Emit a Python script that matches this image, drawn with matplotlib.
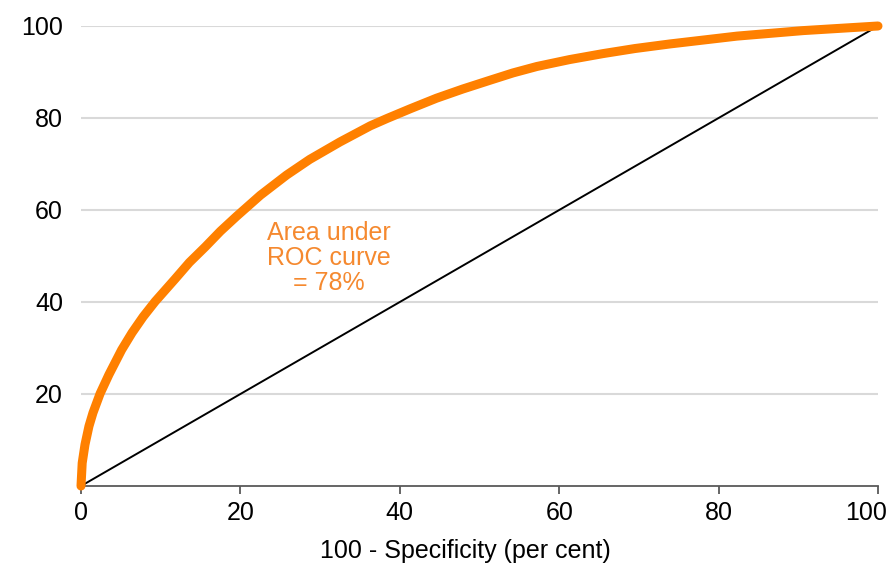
import matplotlib
matplotlib.use("Agg")
import matplotlib.pyplot as plt
import matplotlib.transforms as mtransforms

# Data
roc_x = [0, 0.15, 0.5, 1.0, 1.5, 2.4, 3.5, 5.1, 6.4, 7.8, 9.3, 11.8, 13.6, 15.6, 17.5,
         19.5, 22.5, 25.8, 28.7, 32.5, 36.3, 38.4, 41.3, 44.6, 47.9, 51.3, 54.2, 57.2,
         61.3, 65.5, 69.5, 73.9, 82.3, 90.6, 100]
roc_y = [0, 5.0, 9.0, 13.0, 15.9, 20.1, 24.2, 29.6, 33.3, 36.8, 40.1, 45.0, 48.6, 52.0,
         55.4, 58.6, 63.2, 67.6, 71.0, 74.8, 78.3, 79.9, 82.0, 84.3, 86.3, 88.2, 89.8,
         91.2, 92.7, 94.0, 95.1, 96.1, 97.8, 99.0, 100]
diag_x = [0, 100]
diag_y = [0, 100]
x_ticks = [0, 20, 40, 60, 80, 100]
y_ticks = [20, 40, 60, 80, 100]
annotation = "Area under\nROC curve\n= 78%"
x_label = "100 - Specificity (per cent)"

plt.rcParams['font.family'] = ['Liberation Sans', 'DejaVu Sans']

fig = plt.figure(figsize=(8.9, 5.65), dpi=100)
ax = fig.add_axes([81/890, 1 - 486/565, (878 - 81)/890, (486 - 26)/565])

ax.set_xlim(0, 100)
ax.set_ylim(0, 100)

for yv in y_ticks:
    ax.axhline(yv, color='#d9d9d9', lw=1.5, zorder=0)

ax.plot(diag_x, diag_y, color='black', lw=1.4, zorder=2, clip_on=False)
ax.plot(roc_x, roc_y, color='#FF8000', lw=6.5, solid_capstyle='round',
        solid_joinstyle='round', zorder=3, clip_on=False)

ax.text(31.1, 49.6, annotation, color='#F5892F', fontsize=18, ha='center',
        va='center', linespacing=1.06)

for s in ['top', 'right', 'left']:
    ax.spines[s].set_visible(False)
ax.spines['bottom'].set_color('#595959')
ax.spines['bottom'].set_linewidth(1.3)
ax.spines['bottom'].set_zorder(1)

ax.set_xticks(x_ticks)
ax.set_xticklabels([str(v) for v in x_ticks])
ax.set_yticks(y_ticks)
ax.set_yticklabels([str(v) for v in y_ticks])
ax.tick_params(axis='x', direction='out', length=6, width=1.3, color='#595959',
               labelsize=18, pad=5)
ax.tick_params(axis='y', length=0, labelsize=18, pad=13)
ax.set_xlabel(x_label, fontsize=18)
ax.xaxis.set_label_coords(0.482, -0.115)

# shift last x tick label left so it fits inside the figure (as in reference)
last = ax.get_xticklabels()[-1]
last.set_transform(last.get_transform() +
                   mtransforms.ScaledTranslation(-0.12, 0, fig.dpi_scale_trans))

fig.savefig('out.png', dpi=100, facecolor='white')
